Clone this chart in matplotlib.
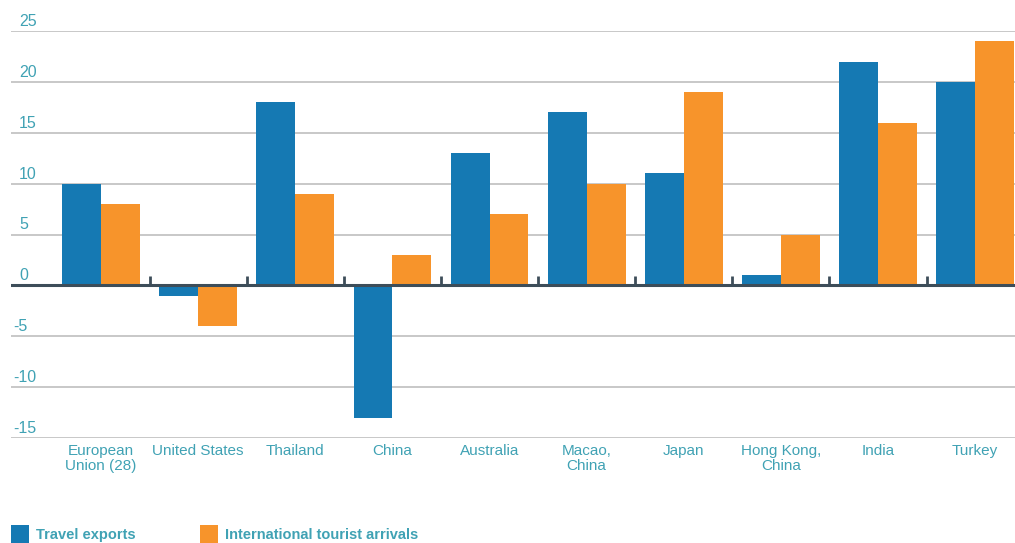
import numpy as np
import matplotlib.pyplot as plt
from matplotlib.patches import Rectangle
from matplotlib.transforms import blended_transform_factory

plt.rcParams['font.family'] = ['Liberation Sans', 'DejaVu Sans']

# data
categories = ['European\nUnion (28)', 'United States', 'Thailand', 'China', 'Australia',
              'Macao,\nChina', 'Japan', 'Hong Kong,\nChina', 'India', 'Turkey']
travel_exports = [10, -1, 18, -13, 13, 17, 11, 1, 22, 20]
tourist_arrivals = [8, -4, 9, 3, 7, 10, 19, 5, 16, 24]
y_ticks = [-15, -10, -5, 0, 5, 10, 15, 20, 25]

BLUE = '#1579b3'
ORANGE = '#f7942b'
TEAL = '#40a2b4'
GRID = '#c4c4c4'
ZERO = '#3d4d59'

W, H = 1015, 543
fig = plt.figure(figsize=(W / 100, H / 100), dpi=100)
ax = fig.add_axes([11 / W, (H - 438) / H, 1 - 11 / W, 407 / H])

x = np.arange(len(categories))
bw = 0.40
ax.bar(x - bw / 2, travel_exports, bw, color=BLUE, zorder=3)
ax.bar(x + bw / 2, tourist_arrivals, bw, color=ORANGE, zorder=3)

ax.set_xlim(-0.927, 9.41)
ax.set_ylim(-15, 25)

# grid lines and labels
for v in y_ticks:
    if v == 0:
        ax.axhline(0, color=ZERO, lw=2.2, zorder=4)
    else:
        ax.axhline(v, color=GRID, lw=1.3, zorder=1)
tr = blended_transform_factory(fig.transFigure, ax.transData)
for v in y_ticks:
    ax.text(19 / W if v >= 0 else 13 / W, v + 0.2, str(v), transform=tr, color=TEAL,
            fontsize=11.5, ha='left', va='bottom')

# small ticks between groups
ax.vlines(x[:-1] + 0.5, 0, 0.95, color=ZERO, lw=2, zorder=4)

for i, c in enumerate(categories):
    ax.text(i, -15.55, c, color=TEAL, fontsize=11, ha='center', va='top', linespacing=1.1)

ax.set_xticks([])
ax.set_yticks([])
for s in ax.spines.values():
    s.set_visible(False)

# legend
for px, label, col in [(11, 'Travel exports', BLUE), (200, 'International tourist arrivals', ORANGE)]:
    fig.add_artist(Rectangle((px / W, 0), 18 / W, 18 / H, transform=fig.transFigure,
                             color=col, lw=0))
    fig.text((px + 25) / W, 8 / H, label, color=TEAL, fontsize=10.5,
             fontweight='bold', ha='left', va='center')

fig.savefig('out.png', dpi=100)
